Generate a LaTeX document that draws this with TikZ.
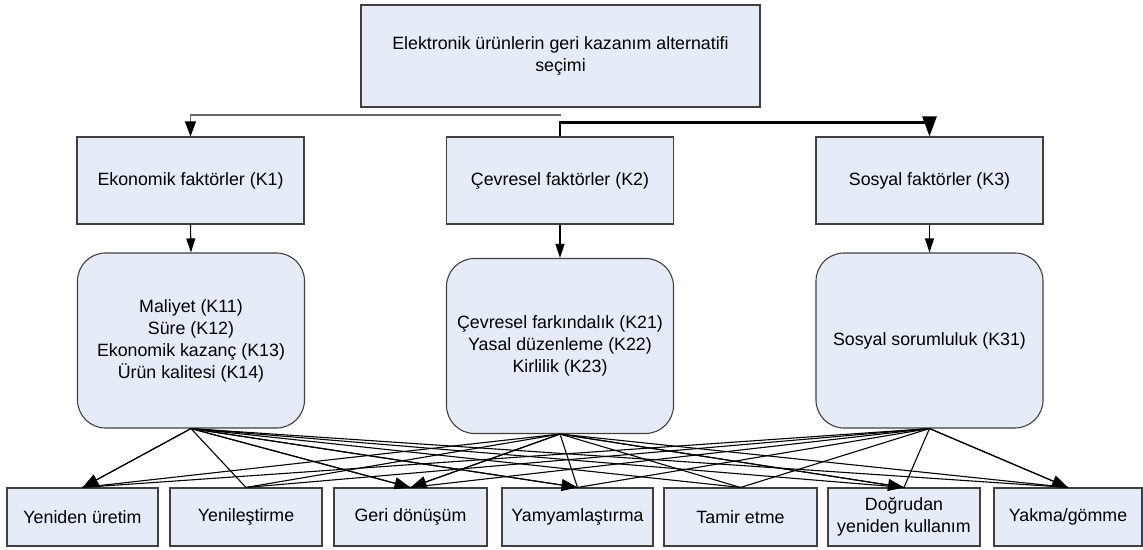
\documentclass[tikz,border=0pt]{standalone}
\usepackage{fontspec}
\setmainfont{Liberation Sans}
\usetikzlibrary{arrows.meta}
\definecolor{boxblue}{RGB}{230,236,247}

\begin{document}
\begin{tikzpicture}[x=1pt,y=-1pt,line width=1.1pt,
    box/.style={draw=black!75,fill=boxblue,align=center,inner sep=0pt,font=\fontsize{17.8}{22}\selectfont},
    crit/.style={box,rounded corners=28pt,minimum width=227pt,minimum height=175pt},
    tip/.style={-{Triangle[length=16pt,width=12pt,color=black]}}]
  \useasboundingbox (0,0) rectangle (1143,549);
  \node[box,minimum width=399pt,minimum height=102pt] (goal) at (560.5,56) {Elektronik ürünlerin geri kazanım alternatifi\\seçimi};
  \foreach \n/\x/\txt in {k1/190.5/Ekonomik faktörler (K1),k2/560/Çevresel faktörler (K2),k3/929.5/Sosyal faktörler (K3)}
    \node[box,minimum width=227pt,minimum height=87pt] (\n) at (\x,180.5) {\txt};
  \node[crit] (s1) at (191,340.5) {Maliyet (K11)\\Süre (K12)\\Ekonomik kazanç (K13)\\Ürün kalitesi (K14)};
  \node[crit] (s2) at (560,346) {Çevresel farkındalık (K21)\\Yasal düzenleme (K22)\\Kirlilik (K23)};
  \node[crit] (s3) at (929.5,340.5) {Sosyal sorumluluk (K31)};
  \foreach \n/\x/\w/\txt in {a1/82.5/151/Yeniden üretim,a2/246/152/Yenileştirme,a3/410.5/153/Geri dönüşüm,
      a4/577.5/151/Yamyamlaştırma,a5/740.5/153/Tamir etme,a6/904/152/{Doğrudan\\yeniden kullanım},a7/1068/148/{Yakma/gömme}}
    \node[box,minimum width=\w pt,minimum height=58pt] (\n) at (\x,517) {\txt};
  % top level connectors
  \coordinate (split) at (560.5,115);
  \draw[-{Triangle[length=15pt,width=11pt,color=black]},draw=black!60] (split) -| (k1.north);
  \draw[-{Triangle[length=20pt,width=14pt]},line width=2.5pt] (k2.north) -- ++(0,-14) -| (k3.north);
  \foreach \i in {1,2,3} \draw[-{Triangle[length=14pt,width=9pt]}] (k\i.south) -- (s\i.north);
  % criteria to alternatives
  \foreach \s in {s1,s2,s3} \foreach \t in {a1,a2,a3,a4,a5,a6,a7} \draw (\s.south) -- (\t.north);
  \foreach \s/\t in {s1/a1,s1/a3,s1/a4,s2/a3,s2/a6,s3/a7} \draw[tip] (\s.south) -- (\t.north);
\end{tikzpicture}
\end{document}
